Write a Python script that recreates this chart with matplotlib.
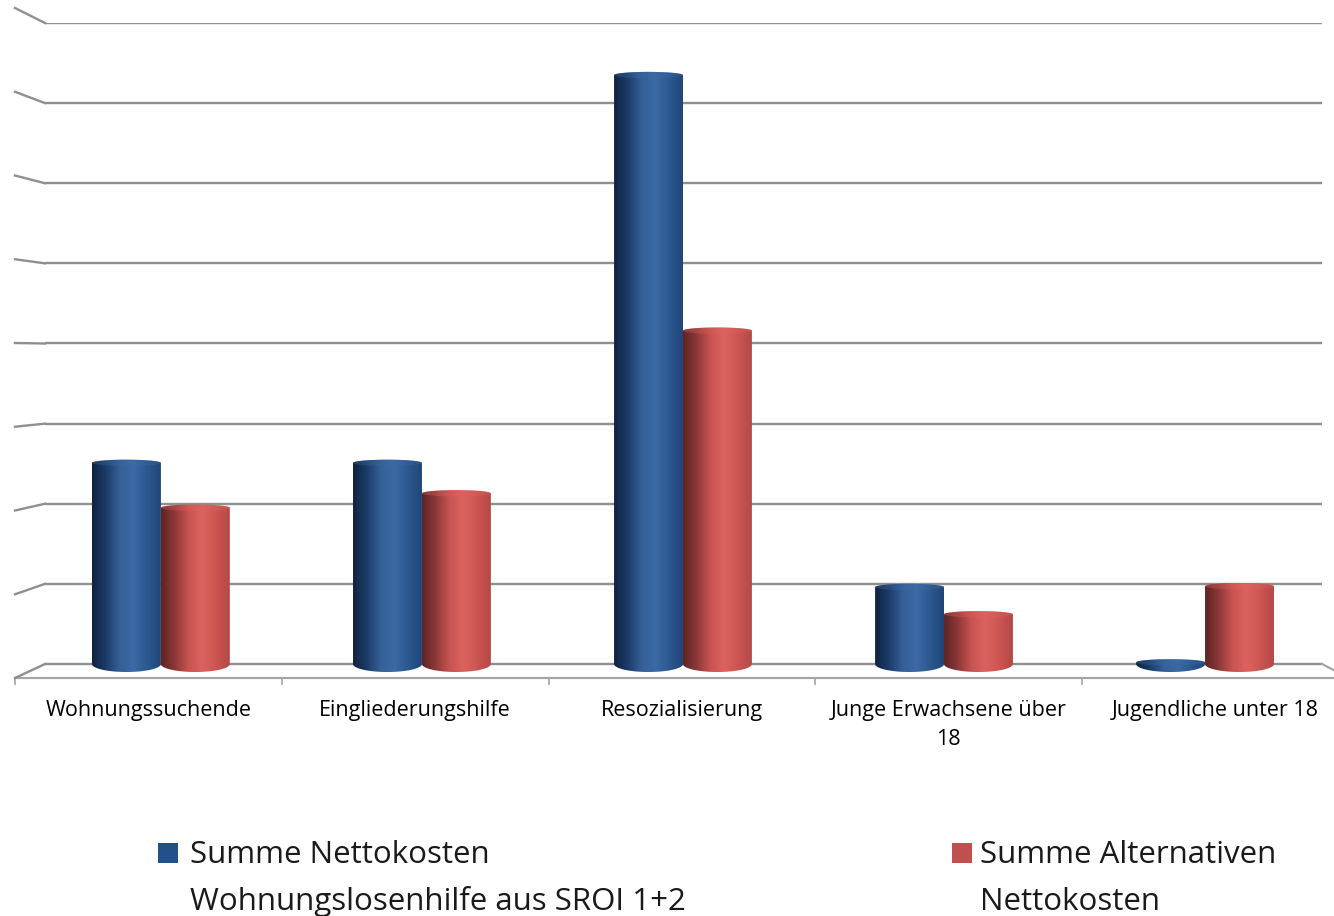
import matplotlib.pyplot as plt
import numpy as np
from matplotlib.colors import LinearSegmentedColormap
from matplotlib.path import Path
from matplotlib.patches import PathPatch, Ellipse, Rectangle
from matplotlib.lines import Line2D

plt.rcParams['font.family'] = ['Open Sans', 'DejaVu Sans']

# Daten
kategorien = ['Wohnungssuchende', 'Eingliederungshilfe', 'Resozialisierung',
              'Junge Erwachsene über\n18', 'Jugendliche unter 18']
nettokosten = [2.51, 2.51, 7.35, 0.96, 0.02]
alternativ = [1.95, 2.13, 4.16, 0.62, 0.97]
serien = [('Summe Nettokosten', 'Wohnungslosenhilfe aus SROI 1+2'),
          ('Summe Alternativen', 'Nettokosten')]

# Farbverläufe für die Zylinder (links dunkel, Mitte hell)
blau = LinearSegmentedColormap.from_list(
    'blau', ['#10223f', '#1b3c69', '#355f97', '#3c6aa4', '#2c5890', '#1f467a'])
rot = LinearSegmentedColormap.from_list(
    'rot', ['#5e2424', '#8e3838', '#c85452', '#dc625f', '#cc5552', '#b54846'])
legende_farben = ['#24508a', '#c0504d']

W, H = 1334, 916
fig = plt.figure(figsize=(W / 100, H / 100), dpi=100)


def pos(x0, y0, x1, y1):
    return [x0 / W, 1 - y1 / H, (x1 - x0) / W, (y1 - y0) / H]


# vordere Bodenkante mit Kategorien
axf = fig.add_axes(pos(15, 8, 1349, 678))
axf.set_xlim(-0.5, 4.5)
axf.set_ylim(0, 8)
axf.patch.set_visible(False)
for s in ['left', 'right', 'top']:
    axf.spines[s].set_visible(False)
axf.spines['bottom'].set_color('#a6a6a6')
axf.spines['bottom'].set_linewidth(1.6)
axf.set_yticks([])
axf.set_xticks(np.arange(-0.5, 5, 1))
axf.set_xticklabels([])
axf.tick_params(axis='x', which='major', direction='out', length=5, width=1.2, color='#a6a6a6')
axf.set_xticks(np.arange(5), minor=True)
axf.set_xticklabels(kategorien, minor=True, fontsize=15.5, color='#000000', linespacing=1.5)
axf.tick_params(axis='x', which='minor', length=0, pad=16)

# Rückwand mit Gitterlinien
ax = fig.add_axes(pos(45, 23, 1322, 664 + 0.2 * 80.1))
ax.patch.set_visible(False)
for s in ax.spines.values():
    s.set_visible(False)
xmin, xmax = -0.444, 4.448
ax.set_yticks(range(9))
ax.yaxis.grid(True, color='#8f8f8f', linewidth=1.7)
ax.set_axisbelow(True)
ax.tick_params(left=False, labelleft=False, bottom=False, labelbottom=False)


def zylinder(ax, xc, hoehe, breite, cmap, ry_oben=0.04, ry_unten=0.1):
    t = np.linspace(0, np.pi, 80)
    oben = np.column_stack([xc - breite / 2 * np.cos(t), hoehe + ry_oben * np.sin(t)])
    unten = np.column_stack([xc + breite / 2 * np.cos(t), -ry_unten * np.sin(t)])
    verts = np.vstack([oben, unten, oben[:1]])
    patch = PathPatch(Path(verts, closed=True), facecolor='none', edgecolor='none')
    ax.add_patch(patch)
    grad = np.linspace(0, 1, 256).reshape(1, -1)
    im = ax.imshow(grad, cmap=cmap, extent=[xc - breite / 2, xc + breite / 2, -ry_unten, hoehe + ry_oben],
                   aspect='auto', interpolation='bicubic', zorder=3)
    im.set_clip_path(patch)
    ax.add_patch(Ellipse((xc, hoehe), breite, 2 * ry_oben, facecolor=cmap(0.6),
                         edgecolor='none', alpha=0.35, zorder=4))


breite = 0.264
for i in range(len(kategorien)):
    zylinder(ax, i - breite / 2, nettokosten[i], breite, blau)
    zylinder(ax, i + breite / 2, alternativ[i], breite, rot)

ax.set_xlim(xmin, xmax)
ax.set_ylim(-0.2, 8)

# Seitenwand links und Bodenkante rechts
inv = fig.transFigure.inverted()
for k in range(9):
    a = inv.transform(axf.transData.transform((-0.5, k)))
    b = inv.transform(ax.transData.transform((xmin, k)))
    fig.add_artist(Line2D([a[0], b[0]], [a[1], b[1]], color='#8f8f8f', lw=1.7))
a = inv.transform(ax.transData.transform((xmax, 0)))
b = inv.transform(axf.transData.transform((4.5, 0)))
fig.add_artist(Line2D([a[0], b[0]], [a[1], b[1]], color='#a6a6a6', lw=1.6))

# Legende
for (zeile1, zeile2), farbe, xq, xt in zip(serien, legende_farben, [158, 952], [190, 980]):
    fig.add_artist(Rectangle((xq / W, 1 - 863 / H), 20 / W, 20 / H, facecolor=farbe,
                             edgecolor='none', transform=fig.transFigure))
    fig.text(xt / W, 1 - 863 / H, zeile1, fontsize=22.5, va='baseline', color='#1a1a1a')
    fig.text(xt / W, 1 - 910 / H, zeile2, fontsize=22.5, va='baseline', color='#1a1a1a')

fig.savefig('out.png', dpi=100)
